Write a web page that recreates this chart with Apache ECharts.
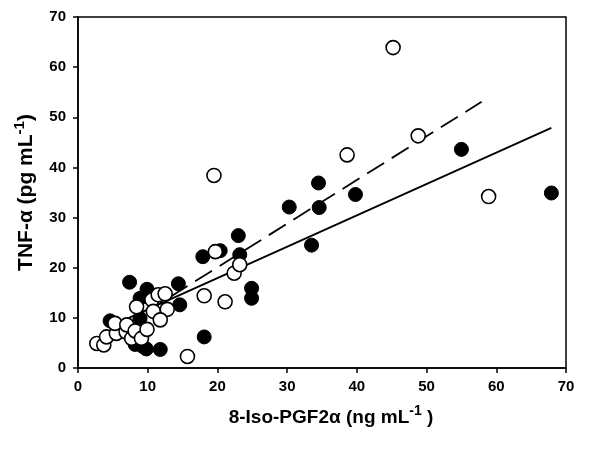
<!DOCTYPE html>
<html><head><meta charset="utf-8">
<script src="https://cdn.jsdelivr.net/npm/echarts@6/dist/echarts.min.js"></script>
<style>html,body{margin:0;padding:0;background:#fff}#c{width:602px;height:456px}</style>
</head><body><div id="c"></div>
<script>
// Filled circles (group 1)
const filledX = [4.6, 7.4, 8.2, 9.3, 9.8, 11.8, 8.9, 8.9, 9.9, 14.4, 14.6, 17.9, 18.1, 20.4, 23.0, 23.2, 24.9, 24.9, 30.3, 33.5, 34.5, 34.6, 39.8, 55.0, 67.9];
const filledY = [9.4, 17.1, 4.7, 4.3, 3.8, 3.7, 9.9, 13.9, 15.7, 16.8, 12.6, 22.2, 6.2, 23.4, 26.4, 22.6, 15.9, 13.9, 32.1, 24.5, 36.9, 32.0, 34.6, 43.6, 34.9];
// Open circles (group 2)
const openX = [2.7, 3.7, 4.1, 5.5, 5.3, 6.9, 7.0, 7.7, 8.2, 9.1, 9.9, 8.4, 10.6, 10.8, 11.5, 12.5, 12.8, 11.8, 15.7, 18.1, 19.5, 19.7, 21.1, 22.4, 23.2, 38.6, 45.2, 48.8, 58.9];
const openY = [4.9, 4.6, 6.2, 6.9, 8.9, 7.2, 8.6, 5.9, 7.4, 5.9, 7.7, 12.2, 13.6, 11.3, 14.6, 14.8, 11.7, 9.6, 2.3, 14.4, 38.4, 23.2, 13.2, 18.9, 20.6, 42.5, 63.9, 46.3, 34.2];
// Regression line endpoints
const fitSolidX = [4.6, 67.9];
const fitSolidY = [8.3, 47.9];
const fitDashX = [2.7, 57.9];
const fitDashY = [5.0, 53.1];
const xTicks = [0, 10, 20, 30, 40, 50, 60, 70];
const yTicks = [0, 10, 20, 30, 40, 50, 60, 70];

const zip = (a, b) => a.map((v, i) => [v, b[i]]);
const font = 'Liberation Sans, Arial, sans-serif';
const chart = echarts.init(document.getElementById('c'));
chart.setOption({
  animation: false,
  grid: {left: 78, right: 36, top: 17, bottom: 88, containLabel: false, outerBoundsMode: 'none',
         show: true, borderColor: '#000', borderWidth: 1.5, backgroundColor: 'transparent'},
  xAxis: {
    type: 'value', min: xTicks[0], max: xTicks[xTicks.length - 1], interval: 10,
    axisLine: {lineStyle: {color: '#000', width: 1.5}},
    axisTick: {show: true, length: 5, lineStyle: {color: '#000', width: 1.5}},
    splitLine: {show: false},
    axisLabel: {color: '#000', fontFamily: font, fontWeight: 'bold', fontSize: 15, margin: 11},
    name: '8-Iso-PGF2α (ng mL{sup|-1} )', nameLocation: 'middle', nameGap: 36,
    nameTextStyle: {color: '#000', fontFamily: font, fontWeight: 'bold', fontSize: 19, padding: [0, 0, 0, 18],
      rich: {sup: {fontFamily: font, fontWeight: 'bold', fontSize: 14, color: '#000', padding: [0, 0, 13, 0]}}}
  },
  yAxis: {
    type: 'value', min: yTicks[0], max: yTicks[yTicks.length - 1], interval: 10,
    axisLine: {lineStyle: {color: '#000', width: 1.5}},
    axisTick: {show: true, length: 5, lineStyle: {color: '#000', width: 1.5}},
    splitLine: {show: false},
    axisLabel: {color: '#000', fontFamily: font, fontWeight: 'bold', fontSize: 15, margin: 12},
    name: 'TNF-α (pg mL{sup|-1})', nameLocation: 'middle', nameGap: 37,
    nameTextStyle: {color: '#000', fontFamily: font, fontWeight: 'bold', fontSize: 21,
      rich: {sup: {fontFamily: font, fontWeight: 'bold', fontSize: 15, color: '#000', padding: [0, 0, 14, 0]}}}
  },
  series: [
    {type: 'line', data: zip(fitSolidX, fitSolidY), symbol: 'none', z: 1,
     lineStyle: {color: '#000', width: 1.8}},
    {type: 'line', data: zip(fitDashX, fitDashY), symbol: 'none', z: 1,
     lineStyle: {color: '#000', width: 1.8, type: [20, 9]}},
    {type: 'scatter', data: zip(filledX, filledY), symbol: 'circle', symbolSize: 14, z: 3,
     itemStyle: {color: '#000', borderColor: '#000', borderWidth: 1, opacity: 1}},
    {type: 'scatter', data: zip(openX, openY), symbol: 'circle', symbolSize: 14, z: 4,
     itemStyle: {color: '#fff', borderColor: '#000', borderWidth: 1.6, opacity: 1}}
  ]
});
</script></body></html>
